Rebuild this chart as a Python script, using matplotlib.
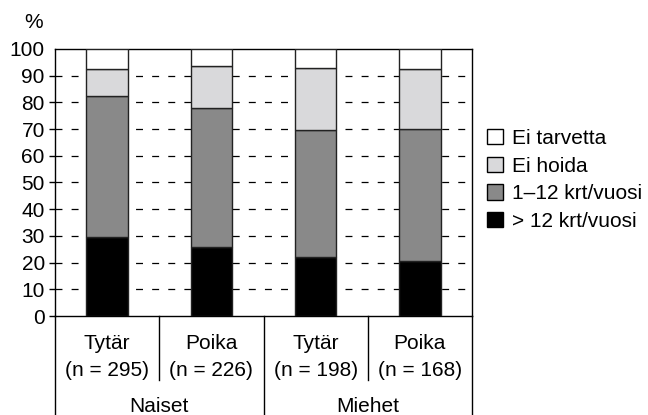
import matplotlib.pyplot as plt
import matplotlib.transforms as mtransforms
from matplotlib.patches import Patch
import numpy as np

plt.rcParams['font.family'] = ['Liberation Sans', 'DejaVu Sans']
plt.rcParams['lines.scale_dashes'] = False

# Data (%), stacked from bottom
groups = ['Naiset', 'Miehet']
subgroups = ['Tytär', 'Poika', 'Tytär', 'Poika']
n_values = [295, 226, 198, 168]
over_12 = [29.5, 26.0, 22.0, 20.5]
one_to_12 = [53.0, 52.0, 47.5, 49.5]
ei_hoida = [10.0, 15.5, 23.5, 22.5]
ei_tarvetta = [7.5, 6.5, 7.0, 7.5]

series = [
    ('> 12 krt/vuosi', over_12, '#000000'),
    ('1–12 krt/vuosi', one_to_12, '#898989'),
    ('Ei hoida', ei_hoida, '#d9d9db'),
    ('Ei tarvetta', ei_tarvetta, '#ffffff'),
]

fs = 15
fig = plt.figure(figsize=(6.48, 4.15), dpi=100)
ax = fig.add_axes([55 / 648, 99 / 415, 417 / 648, 267 / 415])

x = np.arange(len(subgroups))
bottom = np.zeros(len(subgroups))
for label, vals, color in series:
    ax.bar(x, vals, width=0.4, bottom=bottom, color=color,
           edgecolor='#222222', linewidth=1.0, zorder=3)
    bottom += np.array(vals)

ax.set_xlim(-0.5, 3.5)
ax.set_ylim(0, 100)
ax.set_yticks(range(0, 101, 10))
ax.set_xticks([])
ax.tick_params(axis='y', direction='out', length=4.3, width=1, labelsize=fs, pad=3)
ax.yaxis.get_major_ticks()[-1].tick1line.set_visible(False)
for s in ax.spines.values():
    s.set_linewidth(1.0)

for yv in range(10, 100, 10):
    ax.axhline(yv, color='black', linewidth=0.9, dashes=(5, 6.6), zorder=1)

# category table below the axis
trans = mtransforms.blended_transform_factory(ax.transData, ax.transAxes)
bottom_y = -99 / 267
short_y = -64 / 267
for xv in [-0.5, 1.5, 3.5]:
    ax.plot([xv, xv], [0, bottom_y], transform=trans, color='black',
            linewidth=1.0, clip_on=False)
for xv in [0.5, 2.5]:
    ax.plot([xv, xv], [0, short_y], transform=trans, color='black',
            linewidth=1.0, clip_on=False)

for i, (sub, n) in enumerate(zip(subgroups, n_values)):
    ax.text(i, -27 / 267, sub, transform=trans, ha='center', va='center', fontsize=fs)
    ax.text(i, -54 / 267, f'(n = {n})', transform=trans, ha='center', va='center', fontsize=fs)
for j, g in enumerate(groups):
    ax.text(2 * j + 0.5, -90 / 267, g, transform=trans, ha='center', va='center', fontsize=fs)

fig.text(34 / 648, 1 - 23 / 415, '%', ha='center', va='center', fontsize=fs)

handles = [Patch(facecolor=c, edgecolor='black', linewidth=1.0, label=l)
           for l, v, c in reversed(series)]
fig.legend(handles=handles, loc='center left', bbox_to_anchor=(487 / 648, 1 - 180 / 415),
           frameon=False, fontsize=fs, handlelength=0.75, handleheight=0.75,
           handletextpad=0.45, labelspacing=0.42, borderpad=0, borderaxespad=0)

fig.savefig('out.png', dpi=100)
